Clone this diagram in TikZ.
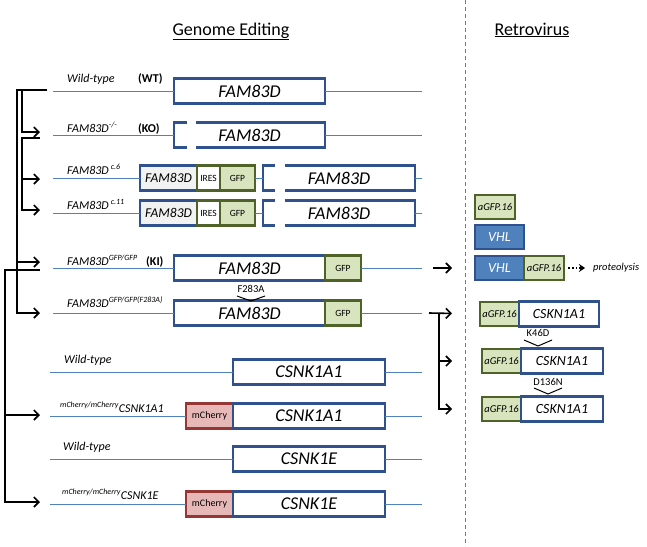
\documentclass[tikz,border=0pt]{standalone}
\usepackage{fontspec}
\setmainfont{Carlito}
\usetikzlibrary{arrows.meta, positioning}

\definecolor{boxblue}{RGB}{47,82,143}
\definecolor{dnablue}{RGB}{79,129,189}
\definecolor{vhlblue}{RGB}{79,129,189}
\definecolor{gfpfill}{RGB}{215,228,189}
\definecolor{gfpline}{RGB}{79,98,40}
\definecolor{cherryfill}{RGB}{230,185,184}
\definecolor{cherryline}{RGB}{149,55,53}
\definecolor{greyfill}{RGB}{242,242,242}

\newcommand{\setfs}[1]{\fontsize{#1}{#1}\selectfont}

\begin{document}
\begin{tikzpicture}[x=1pt, y=-1pt,
    genebox/.style = {rectangle, draw=boxblue, line width=2.3pt, fill=white, inner sep=0pt, outer sep=0pt, minimum height=25pt, font=\itshape\setfs{18}},
    cutbox/.style = {genebox, draw=none, fill=none},
    cutline/.style = {draw=boxblue, line width=2.3pt},
    smallgene/.style = {genebox, fill=greyfill, font=\itshape\setfs{13.5}},
    iresbox/.style = {rectangle, draw=gfpline, line width=2.3pt, fill=white, inner sep=0pt, outer sep=0pt, minimum height=25pt, font=\setfs{9.5}},
    gfpbox/.style = {iresbox, fill=gfpfill},
    cherrybox/.style = {rectangle, draw=cherryline, line width=2.3pt, fill=cherryfill, inner sep=0pt, outer sep=0pt, minimum height=25pt, font=\setfs{10}},
    vhlbox/.style = {rectangle, draw=boxblue, line width=1.5pt, fill=vhlblue, text=white, inner sep=0pt, outer sep=0pt, minimum width=49pt, minimum height=24pt, font=\itshape\setfs{14}},
    agfpbox/.style = {rectangle, draw=gfpline, line width=2.3pt, fill=gfpfill, inner sep=0pt, outer sep=0pt, minimum width=40pt, minimum height=24pt, font=\itshape\setfs{10.5}},
    rowlabel/.style = {anchor=base west, inner sep=0pt, font=\itshape\setfs{12}},
    rowtag/.style = {anchor=base west, inner sep=0pt, font=\bfseries\setfs{12}},
    mutlabel/.style = {inner sep=0pt, font=\setfs{10.5}},
    chevron/.style = {draw=black, line width=1pt},
    dna/.style = {draw=dnablue, line width=0.9pt},
    arrow/.style = {draw=black, -{Straight Barb[length=5pt, width=10pt]}, line width=1.6pt},
    dotarrow/.style = {draw=black, -{Stealth[length=6pt, width=8pt]}, line width=1.8pt, dotted},
    title/.style = {anchor=base, inner sep=0pt, font=\setfs{18}},
    divider/.style = {draw=dnablue, dash pattern=on 4pt off 3pt, line width=1pt}
]
\useasboundingbox (0,0) rectangle (647,546);

% Headings and divider
\node (ttlgenome) [title] at (231,35) {\underline{Genome Editing}};
\node (ttlretro) [title] at (532,35) {\underline{Retrovirus}};
\coordinate (divtop) at (465,0);
\coordinate (divbot) at (465,546);
\draw [divider] (divtop) -- (divbot);

% Wild-type FAM83D
\node (wt83d) [genebox, minimum width=151pt] at (249.5,91) {FAM83D};
\coordinate (wtL) at (53,91);
\coordinate (wtR) at (422,91);
\draw [dna] (wtL) -- (wt83d.west);
\draw [dna] (wt83d.east) -- (wtR);
\node (wtlab) [rowlabel] at (67,82) {Wild-type};
\node (wttag) [rowtag] at (138,82) {(WT)};

% Knock-out
\node (ko83d) [cutbox, minimum width=151pt] at (249.5,135) {FAM83D};
\draw [cutline] ([xshift=13pt]ko83d.north west) -- (ko83d.north west) -- (ko83d.south west) -- ([xshift=13pt]ko83d.south west);
\draw [cutline] ([xshift=22pt]ko83d.north west) -- (ko83d.north east) -- (ko83d.south east) -- ([xshift=22pt]ko83d.south west);
\coordinate (koL) at (53,135);
\coordinate (koR) at (422,135);
\draw [dna] (koL) -- (ko83d.west);
\draw [dna] (ko83d.east) -- (koR);
\node (kolab) [rowlabel] at (67,132) {FAM83D\textsuperscript{-/-}};
\node (kotag) [rowtag] at (138,132) {(KO)};

% c.6 clone
\node (c6a) [smallgene, minimum width=57pt] at (168.5,178) {FAM83D};
\node (c6i) [iresbox, minimum width=23pt, right=0pt of c6a] {IRES};
\node (c6g) [gfpbox, minimum width=35pt, right=0pt of c6i] {GFP};
\node (c6b) [cutbox, minimum width=152pt] at (339,178) {FAM83D};
\draw [cutline] ([xshift=12pt]c6b.north west) -- (c6b.north west) -- (c6b.south west) -- ([xshift=12pt]c6b.south west);
\draw [cutline] ([xshift=22pt]c6b.north west) -- (c6b.north east) -- (c6b.south east) -- ([xshift=22pt]c6b.south west);
\coordinate (c6L) at (53,178);
\coordinate (c6R) at (422,178);
\draw [dna] (c6L) -- (c6a.west);
\draw [dna] (c6g.east) -- (c6b.west);
\draw [dna] (c6b.east) -- (c6R);
\node (c6lab) [rowlabel] at (67,174) {FAM83D\,\textsuperscript{c.6}};

% c.11 clone
\node (c11a) [smallgene, minimum width=57pt] at (168.5,213) {FAM83D};
\node (c11i) [iresbox, minimum width=23pt, right=0pt of c11a] {IRES};
\node (c11g) [gfpbox, minimum width=35pt, right=0pt of c11i] {GFP};
\node (c11b) [cutbox, minimum width=152pt] at (339,213) {FAM83D};
\draw [cutline] ([xshift=12pt]c11b.north west) -- (c11b.north west) -- (c11b.south west) -- ([xshift=12pt]c11b.south west);
\draw [cutline] ([xshift=22pt]c11b.north west) -- (c11b.north east) -- (c11b.south east) -- ([xshift=22pt]c11b.south west);
\coordinate (c11L) at (53,213);
\coordinate (c11R) at (422,213);
\draw [dna] (c11L) -- (c11a.west);
\draw [dna] (c11g.east) -- (c11b.west);
\draw [dna] (c11b.east) -- (c11R);
\node (c11lab) [rowlabel] at (67,209) {FAM83D\,\textsuperscript{c.11}};

% GFP knock-in
\node (ki83d) [genebox, minimum width=151pt] at (249.5,268) {FAM83D};
\node (kigfp) [gfpbox, minimum width=36pt, right=0pt of ki83d] {GFP};
\coordinate (kiL) at (53,268);
\coordinate (kiR) at (422,268);
\draw [dna] (kiL) -- (ki83d.west);
\draw [dna] (kigfp.east) -- (kiR);
\node (kilab) [rowlabel] at (67,265) {FAM83D\textsuperscript{GFP/GFP}};
\node (kitag) [rowtag] at (146,265) {(KI)};

% GFP knock-in, F283A
\node (fa83d) [genebox, minimum width=151pt] at (249.5,313) {FAM83D};
\node (fagfp) [gfpbox, minimum width=36pt, right=0pt of fa83d] {GFP};
\coordinate (faL) at (53,313);
\coordinate (faR) at (422,313);
\draw [dna] (faL) -- (fa83d.west);
\draw [dna] (fagfp.east) -- (faR);
\node (falab) [rowlabel] at (67,307) {FAM83D\textsuperscript{GFP/GFP(F283A)}};
\node (famut) [mutlabel] at (251,289) {F283A};
\draw [chevron] (237,296) -- (251,301) -- (265,296);

% CSNK1A1
\node (wta1) [genebox, minimum width=152pt] at (309,372) {CSNK1A1};
\coordinate (wta1L) at (50,372);
\coordinate (wta1R) at (422,372);
\draw [dna] (wta1L) -- (wta1.west);
\draw [dna] (wta1.east) -- (wta1R);
\node (wta1lab) [rowlabel] at (64,363) {Wild-type};

\node (mcha1) [cherrybox, minimum width=47pt] at (209.5,416) {mCherry};
\node (cha1) [genebox, minimum width=152pt, right=0pt of mcha1] {CSNK1A1};
\coordinate (cha1L) at (50,416);
\coordinate (cha1R) at (422,416);
\draw [dna] (cha1L) -- (mcha1.west);
\draw [dna] (cha1.east) -- (cha1R);
\node (cha1lab) [rowlabel] at (60,412) {\textsuperscript{mCherry/mCherry}CSNK1A1};

% CSNK1E
\node (wt1e) [genebox, minimum width=152pt] at (309,459) {CSNK1E};
\coordinate (wt1eL) at (50,459);
\coordinate (wt1eR) at (422,459);
\draw [dna] (wt1eL) -- (wt1e.west);
\draw [dna] (wt1e.east) -- (wt1eR);
\node (wt1elab) [rowlabel] at (63,450) {Wild-type};

\node (mch1e) [cherrybox, minimum width=47pt] at (209.5,504) {mCherry};
\node (ch1e) [genebox, minimum width=152pt, right=0pt of mch1e] {CSNK1E};
\coordinate (ch1eL) at (50,504);
\coordinate (ch1eR) at (422,504);
\draw [dna] (ch1eL) -- (mch1e.west);
\draw [dna] (ch1e.east) -- (ch1eR);
\node (ch1elab) [rowlabel] at (62,499) {\textsuperscript{mCherry/mCherry}CSNK1E};

% Left lineage arrows
\coordinate (wtsrc) at (47,90);
\coordinate (kosrc) at (40,138);
\coordinate (kisrc) at (40,270);
\coordinate (koin) at (40,132);
\coordinate (c6in) at (40,179);
\coordinate (c11in) at (40,210);
\coordinate (kiin) at (40,262);
\coordinate (fain) at (40,313);
\coordinate (cha1in) at (40,415);
\coordinate (ch1ein) at (40,502);
\draw [arrow] (wtsrc) -| ([xshift=-18pt]koin) -- (koin);
\draw [arrow] (wtsrc) -| ([xshift=-23pt]fain) -- (fain);
\draw [arrow] ([xshift=-23pt]kiin) -- (kiin);
\draw [arrow] (kosrc) -| ([xshift=-18pt]c11in) -- (c11in);
\draw [arrow] ([xshift=-18pt]c6in) -- (c6in);
\draw [arrow] (kisrc) -| ([xshift=-35pt]ch1ein) -- (ch1ein);
\draw [arrow] ([xshift=-35pt]cha1in) -- (cha1in);

% Retrovirus side
\node (solo) [agfpbox] at (495,207) {aGFP.16};
\node (vhl1) [vhlbox] at (499.5,237) {VHL};
\node (vhl2) [vhlbox] at (499.5,268) {VHL};
\node (fused) [agfpbox, right=0pt of vhl2] {aGFP.16};
\node (prot) [anchor=west, inner sep=0pt, font=\itshape\setfs{10.5}] at (593,268) {proteolysis};
\draw [dotarrow, shorten <=4pt, shorten >=8pt] (fused.east) -- (prot.west);

\node (ag1) [agfpbox, minimum width=39pt] at (499.5,314) {aGFP.16};
\node (ck1) [genebox, minimum width=80pt, font=\itshape\setfs{14}, right=0pt of ag1] {CSKN1A1};
\node (ag2) [agfpbox, minimum width=39pt] at (501.5,361) {aGFP.16};
\node (ck2) [genebox, minimum width=82pt, font=\itshape\setfs{14}, right=0pt of ag2] {CSKN1A1};
\node (ag3) [agfpbox, minimum width=39pt] at (501.5,409) {aGFP.16};
\node (ck3) [genebox, minimum width=82pt, font=\itshape\setfs{14}, right=0pt of ag3] {CSKN1A1};
\node (k46d) [mutlabel] at (538,333) {K46D};
\draw [chevron] (524,340) -- (538,346) -- (552,340);
\node (d136n) [mutlabel] at (548,382) {D136N};
\draw [chevron] (534,388) -- (548,394) -- (562,388);

% Arrows into retrovirus lines
\coordinate (kiout) at (433,268);
\coordinate (faout) at (429,313);
\draw [arrow, shorten >=23pt] (kiout) -- (vhl2.west);
\draw [arrow, shorten >=28pt] (faout) -- (ag1.west);
\draw [arrow, shorten >=30pt] ([xshift=10pt]faout) |- (ag2.west);
\draw [arrow, shorten >=30pt] ([xshift=10pt]faout) |- (ag3.west);

\end{tikzpicture}
\end{document}
